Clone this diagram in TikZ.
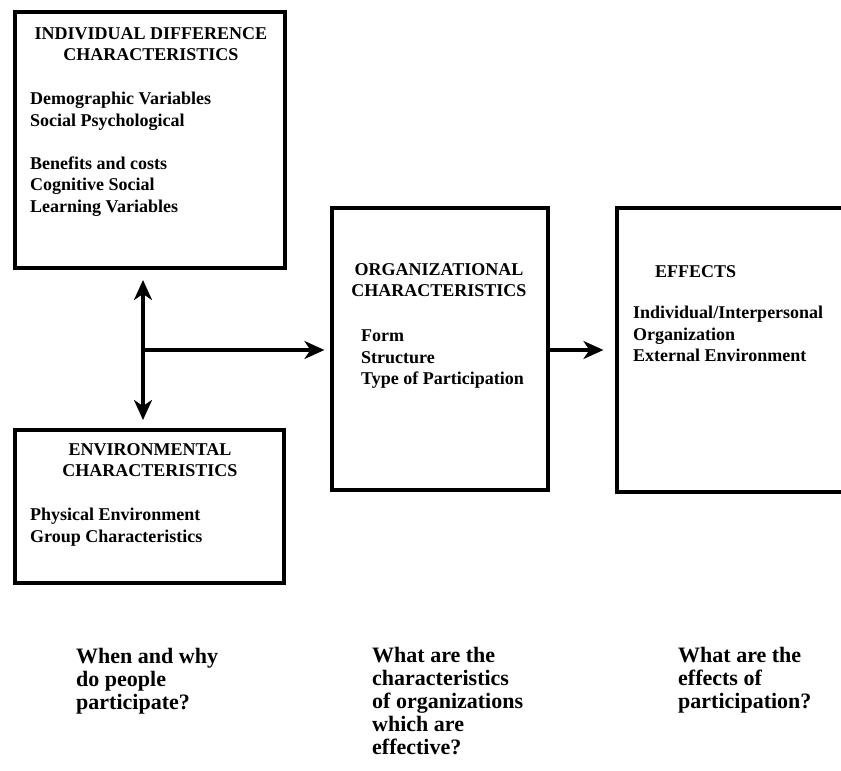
\documentclass[tikz,border=0pt]{standalone}
\usepackage{fontspec}
\setmainfont{Liberation Serif}
\usetikzlibrary{arrows.meta}

\tikzset{
	box/.style={draw, line width=3.2pt, inner sep=0pt},
	head/.style={align=center, inner sep=0pt, anchor=north, font=\bfseries\fontsize{18}{21.5}\selectfont},
	list/.style={align=left, inner sep=0pt, anchor=north west, font=\bfseries\fontsize{18}{21.5}\selectfont},
	question/.style={align=left, inner sep=0pt, anchor=north west, font=\bfseries\fontsize{22}{23}\selectfont},
	arr/.style={line width=3.2pt, -{Stealth[length=20pt,width=18pt,inset=6pt]}},
	dblarr/.style={line width=3.2pt, {Stealth[length=20pt,width=18pt,inset=6pt]}-{Stealth[length=20pt,width=18pt,inset=6pt]}},
}

\begin{document}
\begin{tikzpicture}[x=1pt,y=-1pt]
	\clip (0,0) rectangle (841,771);

	% boxes
	\node[box, minimum width=270pt, minimum height=256pt] (indiv) at (150,140) {};
	\node[box, minimum width=269pt, minimum height=153pt] (env) at (149.5,506.5) {};
	\node[box, minimum width=216pt, minimum height=282pt] (org) at (440,349) {};
	\node[box, minimum width=250pt, minimum height=284pt] (eff) at (742,350) {};

	% box texts
	\node[head] (indivhead) at (151,27) {INDIVIDUAL DIFFERENCE\\CHARACTERISTICS};
	\node[list] (indivlist) at (30,92) {Demographic Variables\\Social Psychological\\[21.5pt]Benefits and costs\\Cognitive Social\\Learning Variables};

	\node[head] (envhead) at (150,443) {ENVIRONMENTAL\\CHARACTERISTICS};
	\node[list] (envlist) at (30,508) {Physical Environment\\Group Characteristics};

	\node[head] (orghead) at (439,263) {ORGANIZATIONAL\\CHARACTERISTICS};
	\node[list] (orglist) at (361,330) {Form\\Structure\\Type of Participation};

	\node[list] (effhead) at (655,265) {EFFECTS};
	\node[list] (efflist) at (633,306) {Individual/Interpersonal\\Organization\\External Environment};

	% arrows
	\coordinate (up) at (143,280);
	\coordinate (down) at (143,420);
	\coordinate (join) at (143,350);
	\draw[dblarr] (up) -- (down);
	\draw[arr] (join) -- ([xshift=-6pt]org.west |- join);
	\draw[arr] (org.east |- join) -- ([xshift=-12pt]eff.west |- join);

	% questions
	\node[question] (qwhy) at (76,648) {When and why\\do people\\participate?};
	\node[question] (qorg) at (372,647) {What are the\\characteristics\\of organizations\\which are\\effective?};
	\node[question] (qeff) at (678,647) {What are the\\effects of\\participation?};
\end{tikzpicture}
\end{document}
